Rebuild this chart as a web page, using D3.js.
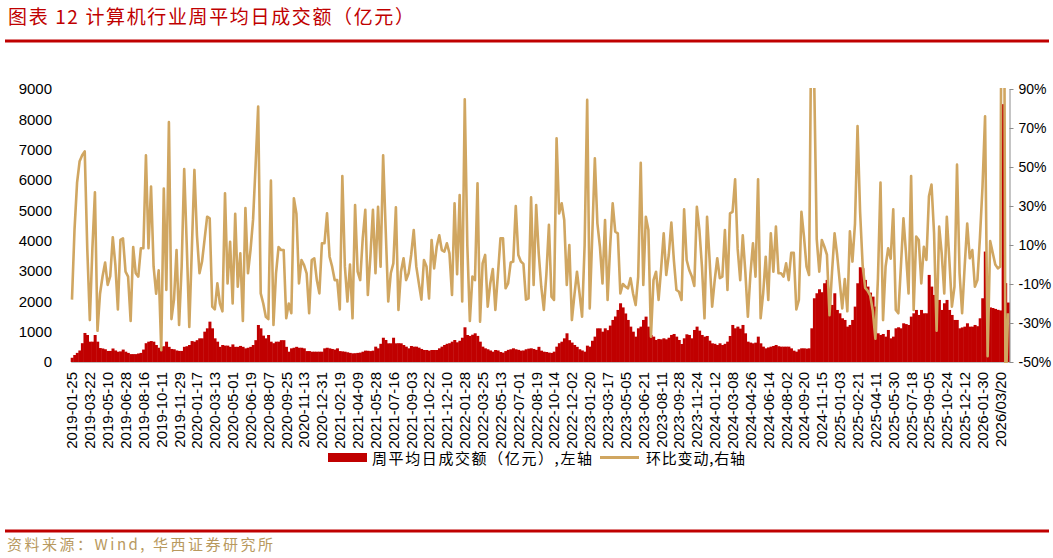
<!DOCTYPE html>
<html><head><meta charset="utf-8">
<script src="https://cdn.jsdelivr.net/npm/d3@7"></script>
<style>html,body{margin:0;padding:0;background:#fff;}svg{display:block;}</style>
</head><body>
<svg id="c" width="1053" height="558"></svg>
<script>
// Weekly average daily turnover (亿元), left axis
const turnover = [
140,230,300,380,620,957,890,670,670,890,670,460,445,420,365,365,445,380,340,350,
410,340,300,260,260,260,280,300,410,620,670,690,670,560,470,500,520,670,500,430,
420,380,365,365,500,520,560,690,670,720,780,780,1000,1110,1330,1110,780,670,500,560,
540,540,500,580,500,500,530,500,450,470,500,560,720,1220,1110,870,780,890,670,620,
670,670,720,720,500,340,450,470,500,470,470,450,360,360,340,340,340,340,340,450,
470,450,430,410,450,360,350,340,320,300,286,290,300,310,340,374,370,360,374,506,
451,600,800,726,616,616,800,616,620,616,560,506,451,528,506,506,473,430,396,396,
374,396,396,396,451,506,560,600,620,670,725,650,700,800,1144,890,860,900,946,860,
670,506,451,420,380,341,396,380,330,308,360,400,420,451,420,400,374,380,420,440,
451,430,400,500,374,340,330,310,300,341,506,620,670,780,946,720,640,561,500,420,
380,341,539,506,700,836,1110,1110,1000,1110,1050,1200,1386,1500,1716,1936,1800,1600,1386,1166,
1000,836,1111,1166,1386,1496,1166,891,836,726,760,748,781,748,800,891,924,836,726,594,
781,913,891,781,1056,1166,1034,891,836,858,704,616,600,561,616,561,600,671,858,1221,
1111,1166,1100,1221,946,671,640,616,638,836,616,506,451,480,506,528,561,520,506,506,
506,506,450,374,341,418,451,451,440,451,1111,2101,2266,2398,2300,2596,2706,2200,1881,2266,
1716,1606,1441,1386,1166,1221,1386,1826,2596,3124,3091,2706,2486,2288,2156,1826,946,891,924,836,
1056,781,836,1111,1144,1111,1276,1250,1221,1496,1606,1716,1551,1716,1606,1606,2871,2486,2211,1606,
2046,1716,1936,2046,1716,1551,1386,1386,1111,1140,1166,1276,1166,1166,1221,1180,1441,2101,3641,1650,
1800,1780,1750,1720,1700,8500,2600,1960
];
// Week-on-week change (%), right axis
const change = [
-18,18,42,53,56,58,8,-28.5,8,37,-34,-15,-6,1,-10.5,-6,14,0,-23,12.6,
13.4,-3.7,-6.2,-29,9,-4.5,-6.2,8.3,8.3,56,8.3,40,-1,-15,-3,-44,39,-13,73,-28,
-18,7.4,-31,-1,49,10,-32,8,48.5,15,-4.5,1.5,13,24.5,23.7,-21.6,-23,-9.7,-20,-24,
36.5,-9.7,11.6,-20,26,-11.4,5.7,-29,29,-4.5,7.4,23,51,81,-14.8,-20,-26.8,-28,43,-31,
-4.5,9,7.4,7.4,-27.6,-20,-25,34,26,-9.7,2.3,-0.3,-4.5,-25,2.3,3.2,-8,-14.8,10.9,10.9,
26.2,4,-1.1,-8,-8,-23,45.4,-1.1,-19,0,-27.6,30.5,-3.7,-8,13.4,28,-15.6,4,28,-4.5,
29.6,-1.1,56,17.7,-19,-4.5,0.6,29.3,-23.3,-3.7,3.2,-8,-4.5,5,17.7,-1.1,-9.7,-18,2.3,-1,
-17.4,12.6,-2,9.1,15,7.4,6.6,10.9,5.7,-15.6,31.4,-5,35.6,-19,84.7,10,-29,-6.2,-8,41.6,
-29.3,0.6,4.9,-21.6,-9.7,-2.3,-23.3,-5,13.4,13.4,-12.2,-9.7,1,1.5,30,4.9,1.5,0.3,-18,-17.4,
34.4,-10.5,30.5,5.7,-11.4,-23.3,-5,20.3,-16.5,-18.2,64.7,26.2,31.4,22.8,-10.5,10,-28.5,-15.6,-3.7,-14.8,
-26.8,10,84.4,-22.5,15,54.4,21.1,9,-9.7,22.8,-18.2,9,31.4,16.8,16,-14.8,-10,-11.4,-12.2,-7,
-15,-20.8,-6.2,52.2,-10.5,24.5,17.7,-37,-8,-3.7,-18.2,-2,16,-5.4,5,21.5,2,-13.1,-14,-18.2,
28.3,2.3,-2.8,-6,-11,29.6,17.7,-1.1,-27.6,24.5,2.3,-21.6,-8,3.2,-7,-6.2,17.7,-13,26.2,27,
43.7,8,-8,15,-3.7,-26.8,-5,10.9,-6.2,43.7,-27.6,-14.8,4,-18.2,16,-3.7,19.4,-4.5,-4.5,-6.2,
0.6,-8,6,6,-23,-18.2,27,14.3,-1.1,-5.4,146,95,13,-3.7,12.6,9.1,5,-26,-3.7,16,
5,-8.8,-22.5,-7.5,-24,17,1.5,21,71,27,-0.3,-12,-13.5,-16,-24,-38,-7,42,-28.5,-1,
8.3,3,28.3,-23.3,-25,-1,23.7,5.7,-14.8,45.4,-23.3,14.3,12.6,-9.7,9.1,2.3,35,41,16,-34,
19.4,5.7,-14.8,24.5,2.3,-21.6,-11.4,51.2,-4.5,-25,-1,21,3.2,7.4,-11.4,-8,14,40,76,-47,
12,6,0,-2,-1,360,-69,-25
];
// Category-axis labels, one every 7 weeks
const tickLabels = ["2019-01-25","2019-03-22","2019-05-10","2019-06-28","2019-08-16","2019-10-11","2019-11-29",
"2020-01-17","2020-03-13","2020-05-01","2020-06-19","2020-08-07","2020-09-25","2020-11-13","2020-12-31",
"2021-02-19","2021-04-09","2021-05-28","2021-07-16","2021-09-03","2021-10-22","2021-12-10",
"2022-01-28","2022-03-25","2022-05-13","2022-07-01","2022-08-19","2022-10-14","2022-12-02",
"2023-01-20","2023-03-17","2023-05-05","2023-06-21","2023-08-11","2023-09-28","2023-11-24",
"2024-01-12","2024-03-08","2024-04-26","2024-06-14","2024-08-02","2024-09-20","2024-11-15",
"2025-01-03","2025-02-21","2025-04-11","2025-05-30","2025-07-18","2025-09-05","2025-10-24","2025-12-12",
"2026-01-30","2026/03/20"];
const leftTicks = [0,1000,2000,3000,4000,5000,6000,7000,8000,9000];
const rightTicks = [-50,-30,-10,10,30,50,70,90];
const labelEvery = 7;

const N = turnover.length;
const categories = d3.range(N);
const svg = d3.select("#c");
const RED = "#C00000", TAN = "#D0A661";
const plotTop = 89, plotBottom = 362;

const x = d3.scaleBand().domain(categories).range([70.7, 1009.3]).padding(0);
const yL = d3.scaleLinear().domain([0, 9000]).range([plotBottom, plotTop]);
const yR = d3.scaleLinear().domain([-50, 90]).range([plotBottom, plotTop]);

// title & rules
svg.append("text").attr("x", 8).attr("y", 24)
  .attr("font-family", "'Noto Sans CJK SC', sans-serif").attr("font-size", 19)
  .attr("fill", RED).attr("textLength", 406).attr("lengthAdjust", "spacing")
  .text("图表 12 计算机行业周平均日成交额（亿元）");
svg.append("rect").attr("x", 5).attr("y", 39.5).attr("width", 1044).attr("height", 3).attr("fill", RED);
svg.append("rect").attr("x", 5).attr("y", 529.5).attr("width", 1044).attr("height", 3).attr("fill", RED);
svg.append("text").attr("x", 7).attr("y", 550)
  .attr("font-family", "'Noto Sans CJK SC', sans-serif").attr("font-size", 15)
  .attr("fill", "#B8995E").attr("textLength", 266).attr("lengthAdjust", "spacing")
  .text("资料来源：Wind, 华西证券研究所");

svg.append("defs").append("clipPath").attr("id", "plot")
  .append("rect").attr("x", 60).attr("y", plotTop - 1).attr("width", 955).attr("height", plotBottom - plotTop + 2);

// bars
svg.append("g").selectAll("rect").data(categories).join("rect")
  .attr("x", i => x(i))
  .attr("width", x.bandwidth() + 0.45)
  .attr("y", i => yL(turnover[i]))
  .attr("height", i => yL(0) - yL(turnover[i]))
  .attr("fill", RED);

// x axis
const xAxis = d3.axisBottom(x)
  .tickValues(categories.filter(i => i % labelEvery === 0 && i / labelEvery < tickLabels.length))
  .tickFormat(i => tickLabels[i / labelEvery])
  .tickSize(0).tickSizeOuter(0);
const gx = svg.append("g").attr("transform", `translate(0,${plotBottom})`).call(xAxis);
gx.select(".domain").attr("stroke", "#BFBFBF").attr("stroke-width", 1);
gx.selectAll("text")
  .attr("font-family", "'Liberation Sans', Arial, sans-serif").attr("font-size", 15).attr("fill", "#000")
  .attr("text-anchor", "end").attr("transform", "rotate(-90)")
  .attr("x", -10).attr("y", 0).attr("dy", "0.36em");

// line
const line = d3.line().x(i => x(i) + x.bandwidth() / 2).y(i => yR(change[i]));
svg.append("path").datum(categories).attr("clip-path", "url(#plot)")
  .attr("d", line).attr("fill", "none").attr("stroke", TAN)
  .attr("stroke-width", 2.6).attr("stroke-linejoin", "round");

// left axis
const gl = svg.append("g").attr("transform", "translate(56,0)")
  .call(d3.axisLeft(yL).tickValues(leftTicks).tickSize(0).tickPadding(4).tickFormat(d3.format("d")));
gl.select(".domain").remove();
gl.selectAll("text").attr("font-family", "'Liberation Sans', Arial, sans-serif").attr("font-size", 15).attr("fill", "#000");

// right axis
const gr = svg.append("g").attr("transform", "translate(1009.5,0)")
  .call(d3.axisRight(yR).tickValues(rightTicks).tickSize(4).tickSizeOuter(0).tickPadding(5).tickFormat(d => d + "%"));
gr.select(".domain").attr("stroke", "#8C8C8C");
gr.selectAll("line").attr("stroke", "#8C8C8C");
gr.selectAll("text").attr("font-family", "'Liberation Sans', Arial, sans-serif").attr("font-size", 14).attr("fill", "#000");

// legend
const lg = svg.append("g");
lg.append("rect").attr("x", 328).attr("y", 453).attr("width", 39).attr("height", 9).attr("fill", RED);
lg.append("text").attr("x", 372).attr("y", 464)
  .attr("font-family", "'Noto Sans CJK SC', sans-serif").attr("font-size", 15).attr("fill", "#000")
  .attr("textLength", 220).attr("lengthAdjust", "spacing").text("周平均日成交额（亿元）,左轴");
lg.append("line").attr("x1", 600).attr("x2", 639).attr("y1", 457.5).attr("y2", 457.5)
  .attr("stroke", TAN).attr("stroke-width", 3);
lg.append("text").attr("x", 646).attr("y", 464)
  .attr("font-family", "'Noto Sans CJK SC', sans-serif").attr("font-size", 15).attr("fill", "#000")
  .attr("textLength", 99).attr("lengthAdjust", "spacing").text("环比变动,右轴");
</script>
</body></html>
